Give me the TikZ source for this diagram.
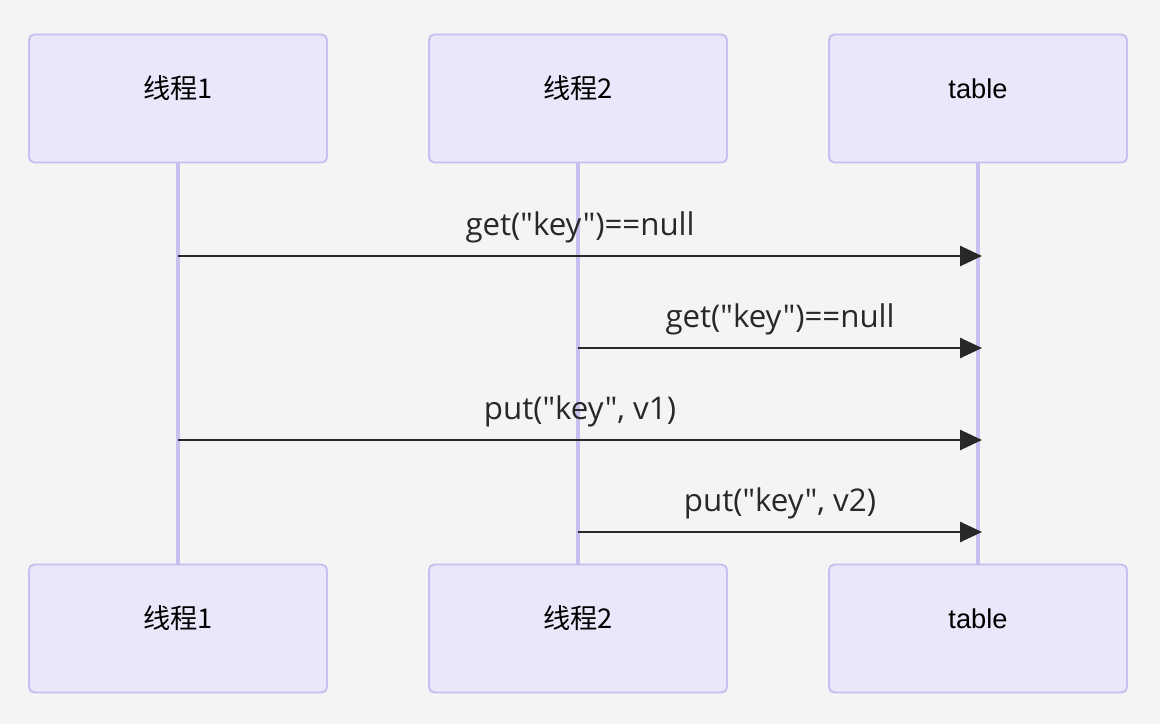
\documentclass[tikz,border=0pt]{standalone}
\usepackage{fontspec}
\setmainfont{Liberation Sans}
\newfontfamily\cjk{Noto Sans CJK SC}
\newfontfamily\msgfont{Open Sans}
\usetikzlibrary{arrows.meta}
\definecolor{bg}{RGB}{244,244,244}
\definecolor{actfill}{RGB}{232,232,250}
\definecolor{actline}{RGB}{200,190,240}
\definecolor{msgtext}{RGB}{40,40,40}

\begin{document}
\begin{tikzpicture}[x=0.02cm,y=-0.02cm,
  actorbox/.style={draw=actline,fill=actfill,line width=1.1pt,rounded corners=3pt,
    minimum width=5.96cm,minimum height=2.56cm,text height=0.35cm,text depth=0.35cm,
    font=\fontsize{15.5}{18}\selectfont},
  lifeline/.style={draw=actline,line width=2pt},
  msgarrow/.style={draw=msgtext,line width=1.5pt,-{Triangle[length=0.44cm,width=0.4cm]}},
  msglabel/.style={anchor=base,yshift=0.42cm,text=msgtext,inner sep=0pt,
    font=\msgfont\fontsize{17.8}{20}\selectfont}]
  \fill[bg] (0,0) rectangle (1160,724);

  % participants
  \node[actorbox] (t1top) at (178,98.5) {\cjk 线程1};
  \node[actorbox] (t2top) at (578,98.5) {\cjk 线程2};
  \node[actorbox] (tbtop) at (978,98.5) {table};
  \node[actorbox] (t1bot) at (178,628.5) {\cjk 线程1};
  \node[actorbox] (t2bot) at (578,628.5) {\cjk 线程2};
  \node[actorbox] (tbbot) at (978,628.5) {table};

  % lifelines
  \draw[lifeline] (t1top) -- (t1bot);
  \draw[lifeline] (t2top) -- (t2bot);
  \draw[lifeline] (tbtop) -- (tbbot);

  % messages
  \coordinate (m1a) at (178,256); \coordinate (m1b) at (982,256);
  \coordinate (m2a) at (578,348); \coordinate (m2b) at (982,348);
  \coordinate (m3a) at (178,440); \coordinate (m3b) at (982,440);
  \coordinate (m4a) at (578,532); \coordinate (m4b) at (982,532);
  \draw[msgarrow] (m1a) -- node[msglabel] {get("key")==null} (m1b);
  \draw[msgarrow] (m2a) -- node[msglabel] {get("key")==null} (m2b);
  \draw[msgarrow] (m3a) -- node[msglabel] {put("key", v1)} (m3b);
  \draw[msgarrow] (m4a) -- node[msglabel] {put("key", v2)} (m4b);
\end{tikzpicture}
\end{document}
